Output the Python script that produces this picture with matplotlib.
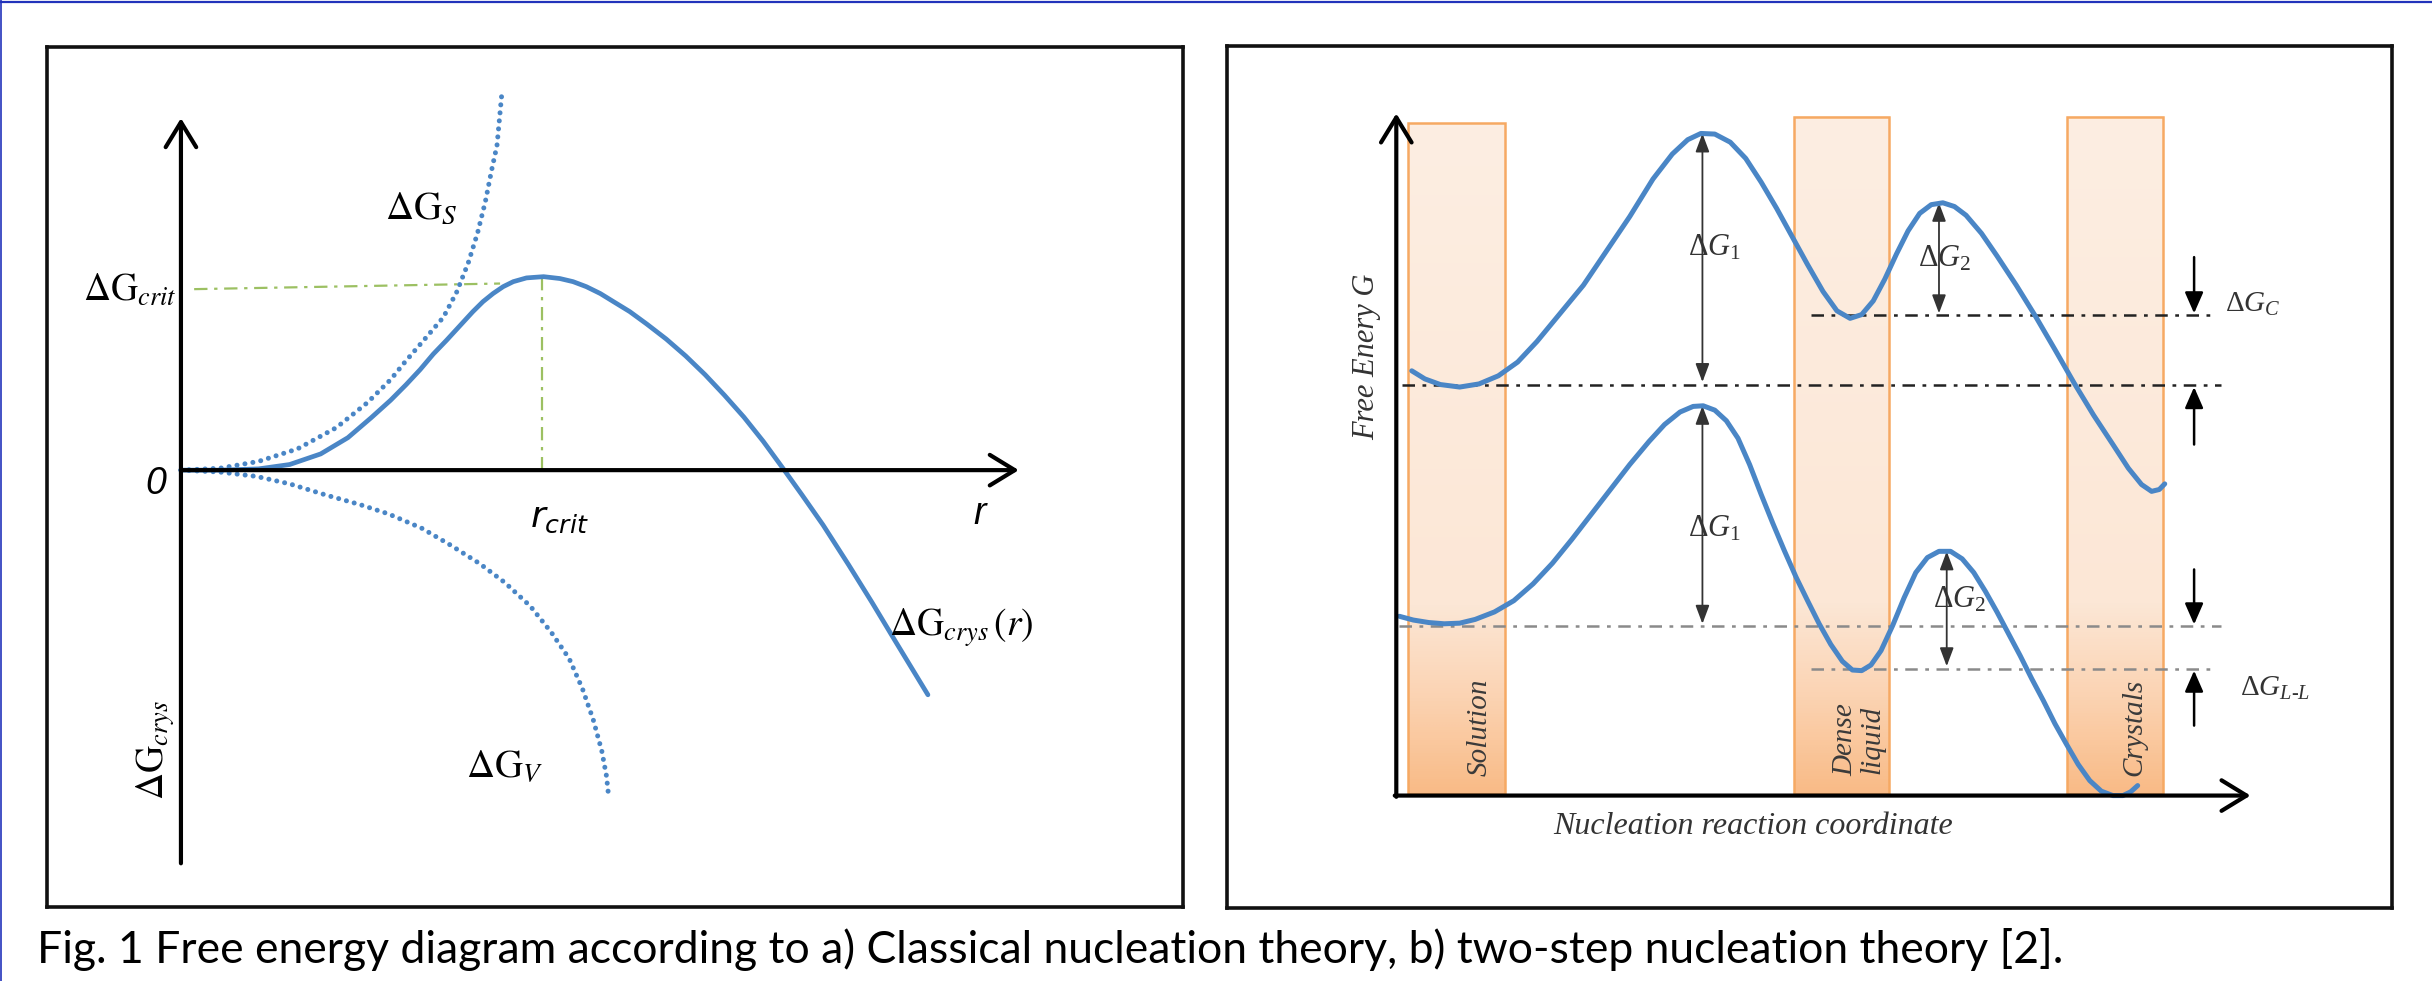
import matplotlib
matplotlib.use('Agg')
import numpy as np
import matplotlib.pyplot as plt
from matplotlib.lines import Line2D
from matplotlib.patches import Rectangle
from matplotlib.colors import LinearSegmentedColormap

plt.rcParams['mathtext.fontset'] = 'stix'
plt.rcParams['mathtext.it'] = 'Liberation Serif:italic'
plt.rcParams['mathtext.rm'] = 'Liberation Serif'
plt.rcParams['font.family'] = ['Liberation Serif', 'DejaVu Serif']

# ---- panel a: classical nucleation (schematic units, origin at the axis cross) ----
crys_r = [0, 50, 100, 140, 180, 215, 245, 270, 290, 308, 325, 342, 359, 376, 389, 402, 415, 428, 445,
          467, 488, 505, 522, 540, 557, 578, 600, 625, 650, 675, 700, 725, 750, 777, 800, 827, 860,
          890, 920, 962]
crys_g = [0, 0, 2, 9, 26, 52, 84, 112, 137, 161, 186, 208, 231, 254, 270, 283, 294, 302, 308,
          310, 307, 302, 294, 283, 270, 254, 234, 210, 183, 153, 120, 85, 46, 0, -40, -88, -152,
          -212, -274, -360]
surf_r = [0, 50, 100, 150, 200, 240, 270, 289, 314, 338, 355, 370, 382, 392, 400, 407, 413]
surf_g = [0, 3, 14, 34, 68, 108, 145, 174, 210, 245, 285, 332, 380, 430, 480, 520, 600]
vol_r = [0, 50, 97, 140, 187, 230, 267, 310, 347, 385, 417, 450, 477, 500, 517, 531, 542, 548, 551]
vol_g = [0, -3, -10, -22, -40, -55, -70, -93, -120, -150, -180, -218, -260, -302, -350, -400, -450,
         -490, -525]
crit_r, crit_g, crit_top = 465, 299, 310

# ---- panel b: two-step nucleation ----
up_x = [20, 37, 57, 82, 107, 132, 157, 182, 212, 242, 272, 302, 332, 357, 377, 394, 412, 432, 452,
        472, 492, 512, 532, 552, 570, 587, 602, 617, 632, 647, 662, 677, 692, 707, 722, 737, 757,
        777, 802, 827, 852, 877, 902, 927, 947, 964, 977, 987, 994]
up_g = [680, 667, 658, 654, 659, 672, 694, 727, 772, 817, 872, 927, 987, 1027, 1050, 1060, 1059,
        1046, 1020, 982, 940, 895, 850, 807, 776, 764, 770, 792, 827, 867, 904, 932, 946, 949, 943,
        929, 900, 864, 817, 767, 714, 660, 609, 562, 524, 498, 487, 490, 499]
lo_x = [4, 22, 42, 62, 82, 102, 127, 152, 177, 202, 227, 252, 277, 302, 327, 347, 367, 384, 397,
        412, 427, 442, 457, 472, 487, 502, 517, 532, 547, 562, 577, 590, 602, 614, 627, 642, 657,
        672, 687, 702, 717, 732, 747, 762, 777, 792, 807, 822, 837, 852, 867, 882, 897, 912, 927,
        940, 950, 959]
lo_g = [287, 281, 277, 275, 276, 282, 294, 312, 339, 372, 410, 450, 490, 530, 567, 594, 614, 623,
        624, 617, 600, 572, 530, 482, 436, 392, 350, 312, 275, 242, 215, 201, 200, 209, 232, 272,
        317, 357, 381, 391, 391, 379, 357, 327, 294, 259, 224, 187, 152, 115, 82, 50, 24, 7, 0, 0,
        6, 16]

band_names = ['Solution', 'Dense\nliquid', 'Crystals']
band_x0 = [15, 514, 867]
band_x1 = [140, 637, 992]
band_top = [1077, 1087, 1087]
band_lx = [108, 598, 955]

level_g = [657, 769, 272, 202]
level_x0 = [7, 537, 4, 537]
level_x1 = [1067, 1062, 1067, 1062]
level_col = ['#222222', '#222222', '#8a8a8a', '#8a8a8a']

gap_x = [396, 702, 396, 712]
gap_top = [1060, 949, 624, 391]
gap_bot = [662, 772, 275, 207]
gap_lbl = [r'$\mathit{ΔG}_{\mathit{1}}$', r'$\mathit{ΔG}_{\mathit{2}}$',
           r'$\mathit{ΔG}_{\mathit{1}}$', r'$\mathit{ΔG}_{\mathit{2}}$']
gap_lx = [412, 709, 412, 729]
gap_lg = [877, 860, 427, 314]

side_x = 1032
side_tail = [862, 562, 362, 112]
side_head = [772, 654, 274, 200]

W, H = 2432, 981
fig = plt.figure(figsize=(W / 100, H / 100), dpi=100)
blue = '#4a86c6'
axis_arrow = dict(arrowstyle='->,head_length=0.9,head_width=0.55', lw=3, color='black',
                  shrinkA=0, shrinkB=0, mutation_scale=20)

# thin blue frame on top and left of the page
fig.add_artist(Line2D([0, 1], [1 - 2 / H, 1 - 2 / H], transform=fig.transFigure, color='#2233bb', lw=1.6))
fig.add_artist(Line2D([1 / W, 1 / W], [0, 1], transform=fig.transFigure, color='#2233bb', lw=1.2))

# ================= panel a =================
ax = fig.add_axes([47 / W, 1 - 907 / H, 1136 / W, 860 / H])
ax.set_xlim(-172.5, 1290.5)
ax.set_ylim(-700, 678)
ax.set_xticks([])
ax.set_yticks([])
for s in ax.spines.values():
    s.set_linewidth(2.6)
    s.set_color('#111111')

ax.annotate('', xy=(0, 564), xytext=(0, -630), arrowprops=axis_arrow)
ax.annotate('', xy=(1079, 0), xytext=(0, 0), arrowprops=axis_arrow)

green = '#9cc062'
ax.plot([17, 411], [290, crit_g], color=green, lw=1.6, dashes=(6, 3, 1.5, 3))
ax.plot([crit_r, crit_r], [crit_top, 0], color=green, lw=1.6, dashes=(6, 3, 1.5, 3))

ax.plot(surf_r, surf_g, color=blue, lw=3.6, dashes=(0.01, 1.6), dash_capstyle='round')
ax.plot(vol_r, vol_g, color=blue, lw=3.6, dashes=(0.01, 1.6), dash_capstyle='round')
ax.plot(crys_r, crys_g, color=blue, lw=3.4, solid_joinstyle='round', solid_capstyle='round')

sans = ['Liberation Sans', 'DejaVu Sans']
ax.text(-33, -22, '0', family=sans, style='italic', fontsize=27, ha='center', va='center')
ax.text(1029, -70, 'r', family=sans, style='italic', fontsize=27, ha='center', va='center')
ax.text(488, -78, r'$\mathit{r}_{crit}$', math_fontfamily='dejavusans', fontsize=26,
        ha='center', va='center')
ax.text(-5, 288, r'$\Delta\mathrm{G}_{crit}$', fontsize=27, ha='right', va='center')
ax.text(309, 418, r'$\Delta\mathrm{G}_{S}$', fontsize=28, ha='center', va='center')
ax.text(417, -477, r'$\Delta\mathrm{G}_{V}$', fontsize=28, ha='center', va='center')
ax.text(912, -253, r'$\Delta\mathrm{G}_{crys}\,(r)$', fontsize=27, ha='left', va='center')
ax.text(-33, -449, r'$\Delta\mathrm{G}_{crys}$', fontsize=27, ha='center', va='center', rotation=90)

# ================= panel b =================
bx = fig.add_axes([1227 / W, 1 - 908 / H, 1165 / W, 862 / H])
bx.set_xticks([])
bx.set_yticks([])
for s in bx.spines.values():
    s.set_linewidth(2.6)
    s.set_color('#111111')

band_cmap = LinearSegmentedColormap.from_list(
    'band', [(0, '#fdeee2'), (0.72, '#fce7d6'), (0.86, '#fbd3b2'), (1, '#f9bb87')])
grad = np.linspace(0, 1, 200).reshape(-1, 1)
for name, x0, x1, top, lx in zip(band_names, band_x0, band_x1, band_top, band_lx):
    bx.imshow(grad, extent=[x0, x1, 3, top], aspect='auto', cmap=band_cmap, zorder=0.5,
              interpolation='bilinear')
    bx.add_patch(Rectangle((x0, 3), x1 - x0, top - 3, fill=False, edgecolor='#f6a963',
                           lw=1.8, zorder=0.6))
    bx.text(lx, 31, name, rotation=90, style='italic', fontsize=21,
            ha='center', va='bottom', color='#3a3a3a', linespacing=1.05, zorder=3)

bx.set_xlim(-219, 1288)
bx.set_ylim(-180, 1200)

for g, x0, x1, c in zip(level_g, level_x0, level_x1, level_col):
    bx.plot([x0, x1], [g, g], color=c, lw=1.8, dashes=(5, 3, 1.5, 3), zorder=2)

bx.plot(up_x, up_g, color=blue, lw=3.6, solid_joinstyle='round', solid_capstyle='round', zorder=4)
bx.plot(lo_x, lo_g, color=blue, lw=3.6, solid_joinstyle='round', solid_capstyle='round', zorder=4)

for x, t, b in zip(gap_x, gap_top, gap_bot):
    bx.annotate('', xy=(x, b), xytext=(x, t),
                arrowprops=dict(arrowstyle='<|-|>,head_length=0.8,head_width=0.3', lw=1.3,
                                color='#333333', shrinkA=0, shrinkB=0, mutation_scale=14), zorder=3)
for lbl, x, g in zip(gap_lbl, gap_lx, gap_lg):
    bx.text(x, g, lbl, math_fontfamily='custom', fontsize=22, ha='center', va='center',
            color='#333333', zorder=3)

for t, h in zip(side_tail, side_head):
    bx.annotate('', xy=(side_x, h), xytext=(side_x, t),
                arrowprops=dict(arrowstyle='-|>,head_length=0.8,head_width=0.35', lw=1.8,
                                color='black', shrinkA=0, shrinkB=0, mutation_scale=16), zorder=3)

bx.text(1072, 787, r'$\mathit{ΔG}_{\mathit{C}}$', math_fontfamily='custom', fontsize=21,
        ha='left', va='center', color='#333333')
bx.text(1092, 172, r'$\mathit{ΔG}_{\mathit{L}\text{-}\mathit{L}}$', math_fontfamily='custom',
        fontsize=21, ha='left', va='center', color='#333333')

bx.annotate('', xy=(0, 1092), xytext=(0, -2), arrowprops=axis_arrow, zorder=5)
bx.annotate('', xy=(1105, 0), xytext=(-2, 0), arrowprops=axis_arrow, zorder=5)

bx.text(-38, 702, 'Free Enery G', rotation=90, style='italic', fontsize=22, ha='center',
        va='center', color='#333333')
bx.text(462, -50, 'Nucleation reaction coordinate', style='italic', fontsize=23, ha='center',
        va='center', color='#333333')

# caption
fig.text(37 / W, (981 - 963) / H,
         'Fig. 1 Free energy diagram according to a) Classical nucleation theory, '
         'b) two-step nucleation theory [2].',
         family=['Lato', 'DejaVu Sans'], fontsize=32, ha='left', va='baseline', color='black')

fig.savefig('out.png', dpi=100)
